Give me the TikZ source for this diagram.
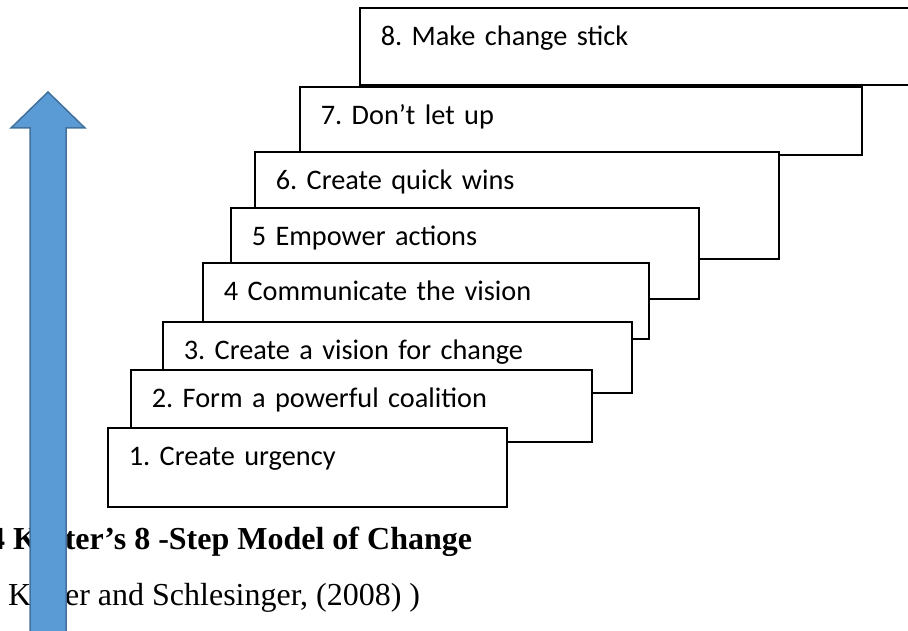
\documentclass[tikz,border=0pt]{standalone}
\usepackage{fontspec}
\usepackage{tikz}
\setmainfont{Liberation Serif}
\newfontfamily\stepfont{Carlito}

\definecolor{arrowfill}{HTML}{5B9BD5}
\definecolor{arrowline}{HTML}{41719C}

\tikzset{stepbox/.style={draw, line width=1.6pt, fill=white, anchor=north west,
  inner xsep=21pt, inner ysep=0pt, text height=38pt, align=left,
  font=\stepfont\fontsize{28.3}{34}\selectfont\frenchspacing}}

\begin{document}
\begin{tikzpicture}[x=1pt, y=-1pt]
\clip (0,0) rectangle (908,631);
\useasboundingbox (0,0) rectangle (908,631);
% caption lines under the staircase
\node[anchor=base west, inner sep=0pt, font=\bfseries\fontsize{32}{38}\selectfont] (title) at (-11,549) {4 Kotter’s 8 -Step Model of Change};
\node[anchor=base west, inner sep=0pt, font=\fontsize{32}{38}\selectfont] (source) at (8,605) {Kotter and Schlesinger, (2008) )};
% big upward arrow
\draw[arrowline, fill=arrowfill, line width=1.5pt] (30,660) -- (30,128) -- (11,128) -- (48,92) -- (85,128) -- (66,128) -- (66,660) -- cycle;
% the eight steps, top one first so the lower ones sit in front
\node[stepbox, text width=524pt, text depth=39pt] (s8) at (359,7) {8. Make change stick};
\node[stepbox, text width=520pt, text depth=30pt] (s7) at (299,86) {7. Don’t let up};
\node[stepbox, text width=482pt, text depth=69pt] (s6) at (254,151) {6. Create quick wins};
\node[stepbox, text width=426pt, text depth=53pt] (s5) at (230,207) {5 Empower actions};
\node[stepbox, text width=404pt, text depth=38pt] (s4) at (202,262) {4 Communicate the vision};
\node[stepbox, text width=427pt, text depth=33pt] (s3) at (162,321) {3. Create a vision for change};
\node[stepbox, text width=419pt, text depth=34pt] (s2) at (130,369) {2. Form a powerful coalition};
\node[stepbox, text width=357pt, text depth=41pt] (s1) at (107,427) {1. Create urgency};
\end{tikzpicture}
\end{document}
